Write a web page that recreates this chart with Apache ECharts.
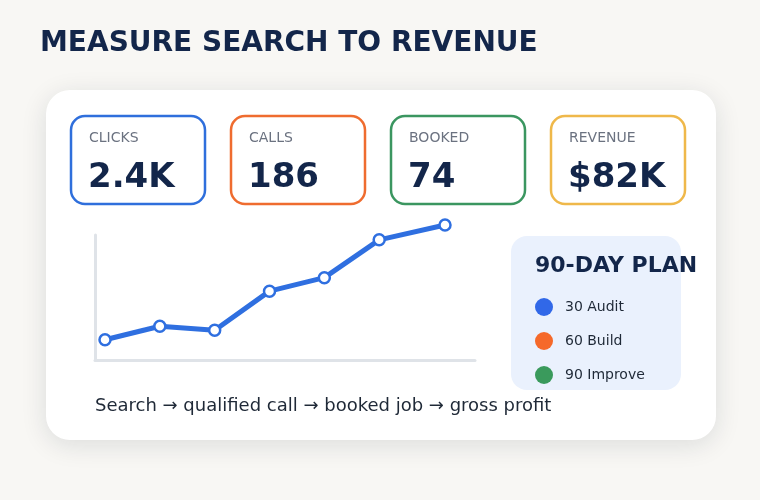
<!DOCTYPE html>
<html>
<head>
<meta charset="utf-8">
<script src="https://cdn.jsdelivr.net/npm/echarts@6/dist/echarts.min.js"></script>
<style>
  html, body { margin: 0; padding: 0; background: #f8f7f4; }
  #main { width: 760px; height: 500px; }
</style>
</head>
<body>
<div id="main"></div>
<script>
// KPI tiles
var kpiLabels = ["CLICKS", "CALLS", "BOOKED", "REVENUE"];
var kpiValues = ["2.4K", "186", "74", "$82K"];
var kpiColors = ["#2f6fdc", "#ef6c2f", "#3b9660", "#efb84a"];
// trend line (x positions, y in % of scale)
var trendX = [1, 2, 3, 4, 5, 6, 7.2];
var trendY = [15, 25, 22, 51, 61, 89, 100];
// plan panel
var planTitle = "90-DAY PLAN";
var planItems = ["30 Audit", "60 Build", "90 Improve"];
var planColors = ["#3168e8", "#f5692a", "#3a9a5c"];
var caption = "Search \u2192 qualified call \u2192 booked job \u2192 gross profit";
var title = "MEASURE SEARCH TO REVENUE";

var navy = "#13264a";
var font = "DejaVu Sans";

var graphics = [];
// main white card
graphics.push({
    type: "rect", z: 0,
    shape: { x: 46, y: 90, width: 670, height: 350, r: 24 },
    style: { fill: "#fff", shadowBlur: 26, shadowColor: "rgba(20,30,50,0.12)", shadowOffsetY: 5 }
});
graphics.push({
    type: "text", x: 40, y: 44,
    style: { text: title, fill: navy, font: "bold 28px " + font, textVerticalAlign: "middle" }
});
for (var i = 0; i < kpiLabels.length; i++) {
    var x0 = 71 + i * 160;
    graphics.push({
        type: "rect", z: 1,
        shape: { x: x0, y: 116, width: 134, height: 88, r: 14 },
        style: { fill: "#fff", stroke: kpiColors[i], lineWidth: 2.5 }
    });
    graphics.push({
        type: "text", z: 2, x: x0 + 18, y: 138.5,
        style: { text: kpiLabels[i], fill: "#6b7280", font: "14px " + font, textVerticalAlign: "middle" }
    });
    graphics.push({
        type: "text", z: 2, x: x0 + 17, y: 178.5,
        style: { text: kpiValues[i], fill: navy, font: "bold 34px " + font, textVerticalAlign: "middle" }
    });
}
// plan panel
graphics.push({
    type: "rect", z: 1,
    shape: { x: 511, y: 236, width: 170, height: 154, r: 16 },
    style: { fill: "#eaf1fd" }
});
graphics.push({
    type: "text", z: 2, x: 535, y: 266,
    style: { text: planTitle, fill: navy, font: "bold 22px " + font, textVerticalAlign: "middle" }
});
for (var j = 0; j < planItems.length; j++) {
    var py = 307 + j * 34;
    graphics.push({
        type: "circle", z: 2,
        shape: { cx: 544, cy: py, r: 9 },
        style: { fill: planColors[j] }
    });
    graphics.push({
        type: "text", z: 2, x: 565, y: py,
        style: { text: planItems[j], fill: "#1f2937", font: "14px " + font, textVerticalAlign: "middle" }
    });
}
graphics.push({
    type: "text", z: 2, x: 95, y: 406,
    style: { text: caption, fill: "#1f2937", font: "18px " + font, textVerticalAlign: "middle" }
});

var myChart = echarts.init(document.getElementById("main"));
var option = {
    animation: false,
    graphic: graphics,
    grid: [
        { left: 95, top: 235, width: 380, height: 125 },   // axis frame
        { left: 105, top: 225, width: 340, height: 135 }   // data area
    ],
    xAxis: [{
        gridIndex: 0, type: "value", min: 0, max: 1,
        axisLine: { lineStyle: { color: "#dfe3e8", width: 3 } },
        axisTick: { show: false }, axisLabel: { show: false }, splitLine: { show: false }
    }, {
        gridIndex: 1, type: "value", min: 1, max: 7.2, show: false
    }],
    yAxis: [{
        gridIndex: 0, type: "value", min: 0, max: 1,
        axisLine: { show: true, lineStyle: { color: "#dfe3e8", width: 3 } },
        axisTick: { show: false }, axisLabel: { show: false }, splitLine: { show: false }
    }, {
        gridIndex: 1, type: "value", min: 0, max: 100, show: false
    }],
    series: [{
        type: "line",
        xAxisIndex: 1, yAxisIndex: 1,
        data: trendX.map(function (x, k) { return [x, trendY[k]]; }),
        clip: false,
        z: 5,
        symbol: "circle",
        symbolSize: 11,
        lineStyle: { color: "#2f6fe0", width: 5 },
        itemStyle: { color: "#fff", borderColor: "#2f6fe0", borderWidth: 2.5 }
    }]
};
myChart.setOption(option, true);
</script>
</body>
</html>
